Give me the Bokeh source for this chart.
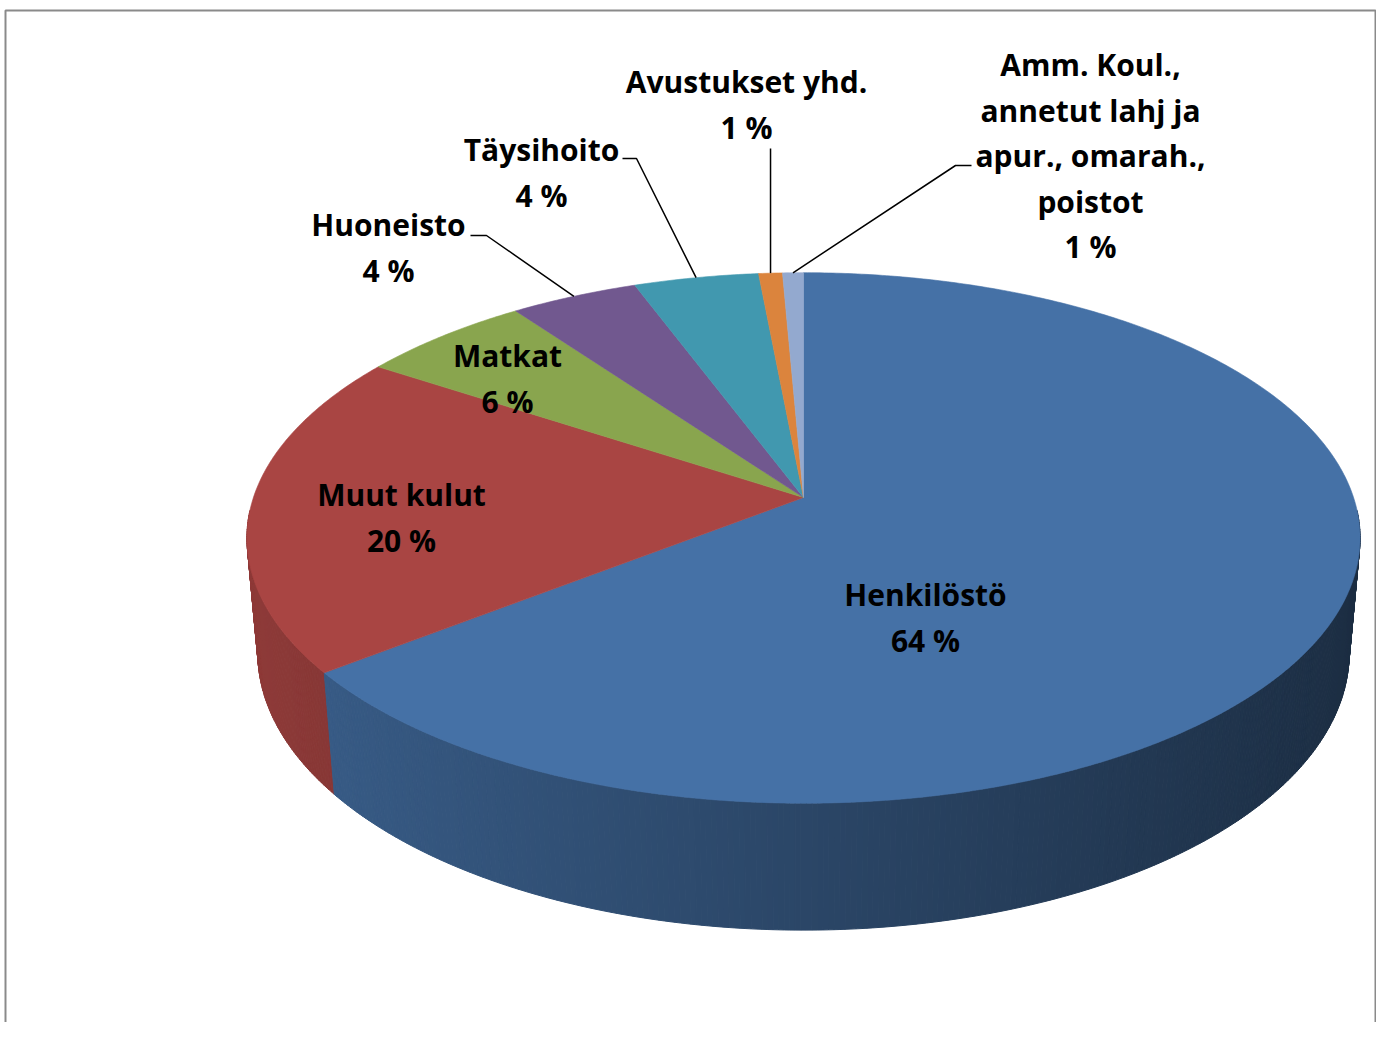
import numpy as np
from bokeh.plotting import figure
from bokeh.models import Range1d, ColumnDataSource
from bokeh.embed import file_html
from bokeh.resources import INLINE
from bokeh.core.properties import value

# ---------------- data ----------------
categories = ["Henkilöstö", "Muut kulut", "Matkat", "Huoneisto", "Täysihoito",
              "Avustukset yhd.", "Amm. Koul., annetut lahj ja apur., omarah., poistot"]
shares = [64.49, 19.71, 5.8, 4.3, 4.2, 0.8, 0.7]
colors = ["#4571A6", "#A94543", "#89A54E", "#71588F", "#4198AF", "#DB843D", "#93A9CF"]
label_lines = [["Henkilöstö"], ["Muut kulut"], ["Matkat"], ["Huoneisto"], ["Täysihoito"],
               ["Avustukset yhd."], ["Amm. Koul.,", "annetut lahj ja", "apur., omarah.,", "poistot"]]

# ---------------- layout ----------------
label_x = [925, 401, 507, 388, 541, 746, 1090]
label_y = [594, 494, 355, 224, 149, 81, 64]
LINE_H = 45.5
# leader lines: (elbow x, elbow y, stub end x or None)
leaders = {3: (486, 235, 470), 4: (636, 158, 622), 5: (None, 148, None), 6: (955, 165, 971)}

# perspective parameters
D = 5.783
ALPHA = np.radians(28.1)
F = 3181.0
CX, CY = 803.0, 497.0
H = 0.239


def proj(theta, Y):
    X = np.sin(theta)
    Z = -np.cos(theta)
    depth = D - Y * np.sin(ALPHA) - Z * np.cos(ALPHA)
    sx = X / depth
    sy = (Y * np.cos(ALPHA) - Z * np.sin(ALPHA)) / depth
    return CX + F * sx, CY - F * sy


def shade(hexcol, f):
    h = hexcol.lstrip("#")
    r, g, b = (int(h[i:i + 2], 16) for i in (0, 2, 4))
    return "#%02x%02x%02x" % tuple(max(0, min(255, int(round(c * f)))) for c in (r, g, b))


total = float(sum(shares))
cum = np.concatenate([[0.0], np.cumsum(shares)]) / total * 2 * np.pi
bounds = list(zip(cum[:-1], cum[1:]))

p = figure(width=1376, height=1022, output_backend="svg", toolbar_location=None,
           x_range=Range1d(0, 1376), y_range=Range1d(1022, 0),
           x_axis_location=None, y_axis_location=None, min_border=0,
           background_fill_color="white", border_fill_color="white")
p.grid.visible = False
p.outline_line_color = None

# chart border
p.line([5, 5, 1375, 1375], [1060, 10, 10, 1060], line_color="#8a8a8a", line_width=2)

# ---------------- side (rim) ----------------
step = np.radians(0.5)
quads = []
for i, (a0, a1) in enumerate(bounds):
    n = max(2, int(np.ceil((a1 - a0) / step)))
    ts = np.linspace(a0, a1, n + 1)
    for t0, t1 in zip(ts[:-1], ts[1:]):
        tm = 0.5 * (t0 + t1)
        zm = -np.cos(tm)
        if zm < 0.05:
            continue
        x0t, y0t = proj(t0, 0.0)
        x1t, y1t = proj(t1, 0.0)
        x1b, y1b = proj(t1, -H)
        x0b, y0b = proj(t0, -H)
        f = 0.62 - 0.23 * np.sin(tm)
        c = shade(colors[i], f)
        quads.append((zm, [x0t, x1t, x1b, x0b], [y0t, y1t, y1b, y0b], c))
quads.sort(key=lambda q: q[0])
side_src = ColumnDataSource(dict(xs=[q[1] for q in quads], ys=[q[2] for q in quads],
                                 c=[q[3] for q in quads]))
p.patches("xs", "ys", source=side_src, fill_color="c", line_color="c", line_width=1)

# ---------------- top faces ----------------
txs, tys = [], []
for i, (a0, a1) in enumerate(bounds):
    n = max(4, int(np.ceil((a1 - a0) / np.radians(0.5))))
    ts = np.linspace(a0, a1, n + 1)
    xs, ys = proj(ts, 0.0)
    txs.append([CX] + list(xs))
    tys.append([CY] + list(ys))
top_src = ColumnDataSource(dict(xs=txs, ys=tys, c=colors))
p.patches("xs", "ys", source=top_src, fill_color="c", line_color="c", line_width=0.6)

# ---------------- leader lines ----------------
for i, (ex, ey, sx) in leaders.items():
    a0, a1 = bounds[i]
    mx, my = proj(0.5 * (a0 + a1), 0.0)
    if ex is None:
        p.line([mx, mx], [my, ey], line_color="black", line_width=1.5)
    else:
        p.line([mx, ex, sx], [my, ey, ey], line_color="black", line_width=1.5)

# ---------------- labels ----------------
tx, ty, tt = [], [], []
for i, lines in enumerate(label_lines):
    allines = lines + ["%d %%" % int(round(shares[i] / total * 100))]
    for k, s in enumerate(allines):
        tx.append(label_x[i])
        ty.append(label_y[i] + k * LINE_H)
        tt.append(s)
p.text(x=tx, y=ty, text=tt, text_font=value("Open Sans"), text_font_style="bold",
       text_font_size="30px", text_align="center", text_baseline="middle", text_color="black")

open("out.html", "w").write(file_html(p, INLINE))
